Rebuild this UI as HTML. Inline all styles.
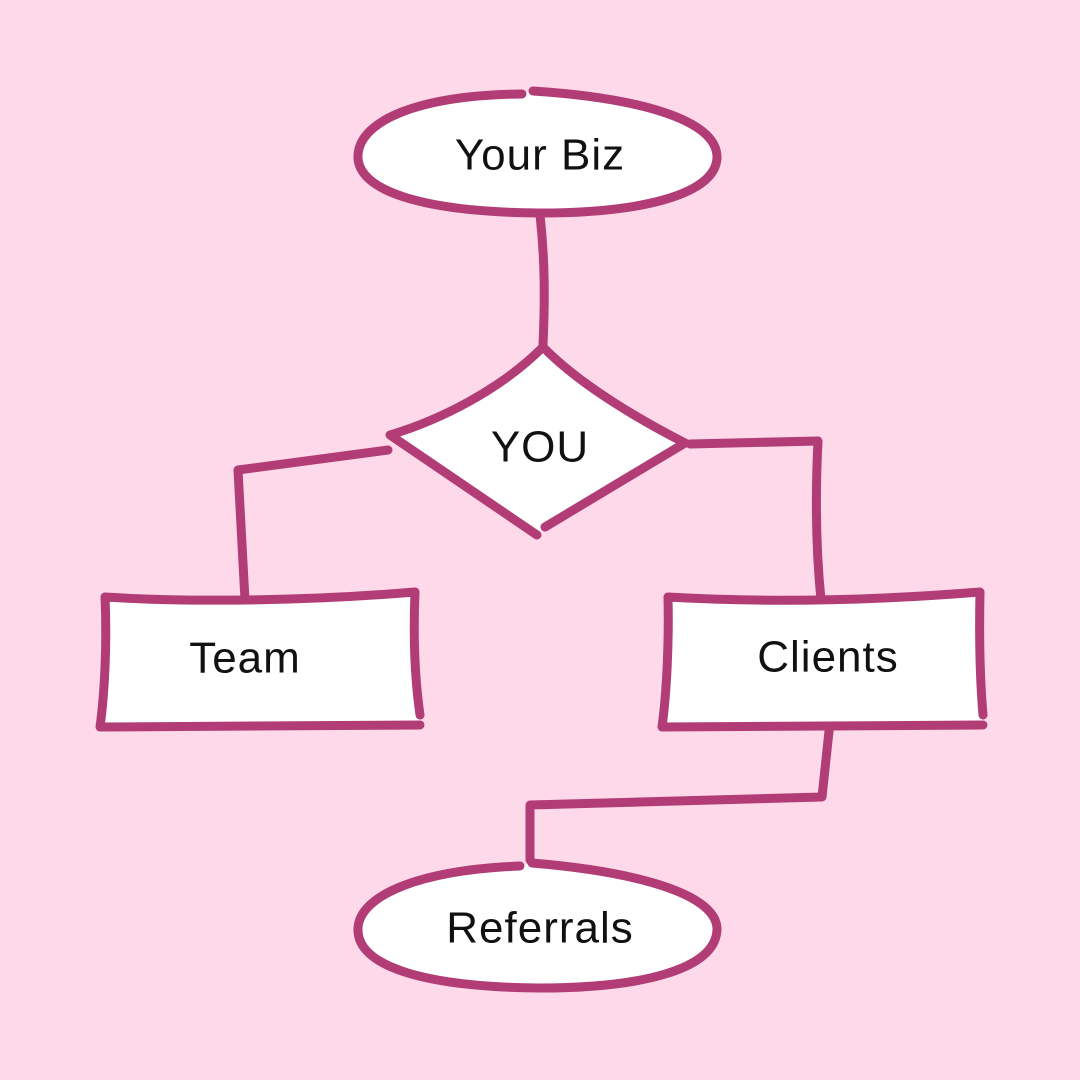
<!DOCTYPE html>
<html><head><meta charset="utf-8"><style>
html,body{margin:0;padding:0;background:#fdd9e9;}
svg{display:block}
text{font-family:"Liberation Sans",sans-serif;font-size:44px;fill:#111;text-anchor:middle;dominant-baseline:central;letter-spacing:1px}
</style></head><body>
<svg width="1080" height="1080" viewBox="0 0 1080 1080">
<rect width="1080" height="1080" fill="#fdd9e9"/>
<g fill="none" stroke="#b23d76" stroke-width="9" stroke-linecap="round" stroke-linejoin="round">
<path d="M540,215 C545,260 545,300 543,345"/>
<path d="M388,450 L238,470 L245,600"/>
<path d="M690,444 L818,441 C815,500 816,550 821,600"/>
<path d="M830,722 L822,797 L530,805 L530,860"/>
</g>
<g fill="#fff" stroke="none">
<path d="M105,597 C200,603 320,600 415,592 C413,640 415,680 420,725 L100,727 C105,690 107,640 105,597Z"/>
<path d="M668,597 C770,603 880,600 980,592 C979,640 980,680 983,725 L662,727 C667,690 669,640 668,597Z"/>
</g>
<g fill="#fff" stroke="#b23d76" stroke-width="9" stroke-linecap="round" stroke-linejoin="round">
<path d="M522,94 C420,95 360,120 358,155 C356,190 420,212 540,213 C640,213 715,195 717,158 C718,120 640,98 533,91"/>
<path d="M545,527 L685,443 C640,420 580,385 543,347 C500,390 440,420 390,435 L537,535"/>
<path fill="none" d="M105,597 C200,603 320,600 415,592 C413,640 415,680 420,715 M420,725 L100,727 C105,690 107,640 105,597"/>
<path fill="none" d="M668,597 C770,603 880,600 980,592 C979,640 980,680 983,715 M983,725 L662,727 C667,690 669,640 668,597"/>
<path d="M520,866 C420,870 360,895 358,928 C356,965 420,987 540,988 C640,988 715,970 717,930 C718,895 640,872 532,863"/>
</g>
<text x="540" y="155">Your Biz</text>
<text x="540" y="447">YOU</text>
<text x="245" y="658">Team</text>
<text x="828" y="657">Clients</text>
<text x="540" y="928">Referrals</text>
</svg>
</body></html>
